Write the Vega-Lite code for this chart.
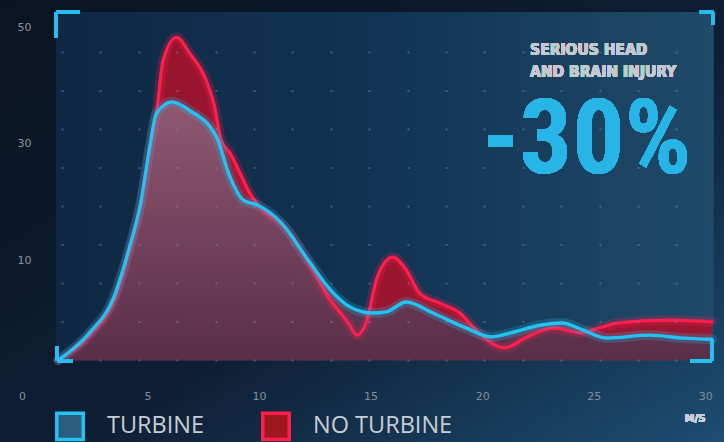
{
  "$schema": "https://vega.github.io/schema/vega-lite/v6.json",
  "width": 724,
  "height": 442,
  "autosize": {"type": "none"},
  "padding": 0,
  "background": "#0b1526",
  "config": {
    "view": {
      "stroke": null,
      "fill": {"gradient": "linear", "x1": 0, "y1": 0, "x2": 1, "y2": 1,
        "stops": [{"offset": 0, "color": "#0a1322"}, {"offset": 0.55, "color": "#0e1e33"}, {"offset": 1, "color": "#1c4d72"}]}
    },
    "axis": {"labelFont": "DejaVu Sans", "title": null}
  },
  "data": {
    "values": [
      {"series": "TURBINE", "speed_ms": 1.0, "injuries": -7.2},
      {"series": "TURBINE", "speed_ms": 2.4, "injuries": -2.5},
      {"series": "TURBINE", "speed_ms": 3.5, "injuries": 3.7},
      {"series": "TURBINE", "speed_ms": 4.2, "injuries": 12.3},
      {"series": "TURBINE", "speed_ms": 4.7, "injuries": 19.9},
      {"series": "TURBINE", "speed_ms": 5.1, "injuries": 29.4},
      {"series": "TURBINE", "speed_ms": 5.4, "injuries": 35.2},
      {"series": "TURBINE", "speed_ms": 6.1, "injuries": 37.2},
      {"series": "TURBINE", "speed_ms": 6.9, "injuries": 35.7},
      {"series": "TURBINE", "speed_ms": 8.1, "injuries": 31.1},
      {"series": "TURBINE", "speed_ms": 8.7, "injuries": 24.3},
      {"series": "TURBINE", "speed_ms": 9.3, "injuries": 20.3},
      {"series": "TURBINE", "speed_ms": 9.9, "injuries": 19.5},
      {"series": "TURBINE", "speed_ms": 11.0, "injuries": 16.4},
      {"series": "TURBINE", "speed_ms": 12.2, "injuries": 10.0},
      {"series": "TURBINE", "speed_ms": 13.2, "injuries": 4.9},
      {"series": "TURBINE", "speed_ms": 14.1, "injuries": 1.9},
      {"series": "TURBINE", "speed_ms": 15.1, "injuries": 0.9},
      {"series": "TURBINE", "speed_ms": 15.7, "injuries": 1.1},
      {"series": "TURBINE", "speed_ms": 16.6, "injuries": 2.8},
      {"series": "TURBINE", "speed_ms": 17.8, "injuries": 0.9},
      {"series": "TURBINE", "speed_ms": 19.3, "injuries": -1.7},
      {"series": "TURBINE", "speed_ms": 20.4, "injuries": -3.2},
      {"series": "TURBINE", "speed_ms": 21.4, "injuries": -2.4},
      {"series": "TURBINE", "speed_ms": 22.6, "injuries": -1.2},
      {"series": "TURBINE", "speed_ms": 23.6, "injuries": -0.8},
      {"series": "TURBINE", "speed_ms": 24.5, "injuries": -2.0},
      {"series": "TURBINE", "speed_ms": 25.6, "injuries": -3.4},
      {"series": "TURBINE", "speed_ms": 27.5, "injuries": -2.9},
      {"series": "TURBINE", "speed_ms": 29.0, "injuries": -3.4},
      {"series": "TURBINE", "speed_ms": 30.3, "injuries": -3.6},
      {"series": "NO TURBINE", "speed_ms": 1.0, "injuries": -7.2},
      {"series": "NO TURBINE", "speed_ms": 2.4, "injuries": -2.9},
      {"series": "NO TURBINE", "speed_ms": 3.5, "injuries": 3.1},
      {"series": "NO TURBINE", "speed_ms": 4.2, "injuries": 11.7},
      {"series": "NO TURBINE", "speed_ms": 4.7, "injuries": 19.5},
      {"series": "NO TURBINE", "speed_ms": 5.1, "injuries": 28.9},
      {"series": "NO TURBINE", "speed_ms": 5.4, "injuries": 35.2},
      {"series": "NO TURBINE", "speed_ms": 5.7, "injuries": 44.3},
      {"series": "NO TURBINE", "speed_ms": 6.3, "injuries": 48.3},
      {"series": "NO TURBINE", "speed_ms": 6.9, "injuries": 45.5},
      {"series": "NO TURBINE", "speed_ms": 7.6, "injuries": 41.2},
      {"series": "NO TURBINE", "speed_ms": 8.0, "injuries": 36.5},
      {"series": "NO TURBINE", "speed_ms": 8.3, "injuries": 30.6},
      {"series": "NO TURBINE", "speed_ms": 8.7, "injuries": 28.4},
      {"series": "NO TURBINE", "speed_ms": 9.7, "injuries": 20.8},
      {"series": "NO TURBINE", "speed_ms": 10.1, "injuries": 18.9},
      {"series": "NO TURBINE", "speed_ms": 11.2, "injuries": 15.5},
      {"series": "NO TURBINE", "speed_ms": 12.3, "injuries": 9.1},
      {"series": "NO TURBINE", "speed_ms": 13.1, "injuries": 3.7},
      {"series": "NO TURBINE", "speed_ms": 14.0, "injuries": -0.8},
      {"series": "NO TURBINE", "speed_ms": 14.4, "injuries": -2.9},
      {"series": "NO TURBINE", "speed_ms": 14.8, "injuries": -0.8},
      {"series": "NO TURBINE", "speed_ms": 15.3, "injuries": 7.1},
      {"series": "NO TURBINE", "speed_ms": 16.0, "injuries": 10.5},
      {"series": "NO TURBINE", "speed_ms": 16.6, "injuries": 8.3},
      {"series": "NO TURBINE", "speed_ms": 17.2, "injuries": 4.3},
      {"series": "NO TURBINE", "speed_ms": 18.1, "injuries": 2.6},
      {"series": "NO TURBINE", "speed_ms": 19.0, "injuries": 0.9},
      {"series": "NO TURBINE", "speed_ms": 19.6, "injuries": -1.5},
      {"series": "NO TURBINE", "speed_ms": 21.0, "injuries": -5.1},
      {"series": "NO TURBINE", "speed_ms": 22.0, "injuries": -3.2},
      {"series": "NO TURBINE", "speed_ms": 23.2, "injuries": -1.7},
      {"series": "NO TURBINE", "speed_ms": 24.4, "injuries": -2.5},
      {"series": "NO TURBINE", "speed_ms": 25.2, "injuries": -1.7},
      {"series": "NO TURBINE", "speed_ms": 26.1, "injuries": -0.8},
      {"series": "NO TURBINE", "speed_ms": 28.3, "injuries": -0.3},
      {"series": "NO TURBINE", "speed_ms": 30.3, "injuries": -0.6}
    ]
  },
  "resolve": {"axis": {"x": "independent", "y": "independent"}},
  "layer": [
    {
      "mark": {"type": "rect", "fill": {"gradient": "linear", "x1": 0, "y1": 0, "x2": 1, "y2": 0,
        "stops": [{"offset": 0, "color": "#0f2844"}, {"offset": 0.5, "color": "#123353"}, {"offset": 1, "color": "#1f4a69"}]}},
      "encoding": {
        "x": {"datum": 0.9, "type": "quantitative",
          "scale": {"domain": [-1.61, 30.84], "nice": false, "zero": false},
          "axis": {"orient": "bottom", "values": [1.17, 2.891, 4.612, 6.334, 8.055, 9.776, 11.497, 13.218, 14.94, 16.661, 18.382, 20.103, 21.824, 23.546, 25.267, 26.988, 28.709],
            "labels": false, "ticks": false, "domain": false, "grid": true,
            "gridDash": [0, 51, 2, 36.5, 2, 36.5, 2, 36.5, 2, 36.5, 2, 36.5, 2, 36.5, 2, 36.5, 2, 36.5, 2, 500],
            "gridColor": "#7aa3c4", "gridOpacity": 0.4, "gridWidth": 2, "zindex": 1, "title": null}},
        "x2": {"datum": 30.35},
        "y": {"datum": 52.6, "type": "quantitative",
          "scale": {"domain": [-21.26, 54.7], "nice": false, "zero": false}, "axis": null},
        "y2": {"datum": -7.2}
      }
    },
    {
      "transform": [{"filter": "datum.series === 'NO TURBINE'"}],
      "mark": {"type": "area", "interpolate": "monotone", "fill": "#a5142c", "fillOpacity": 0.92},
      "encoding": {
        "x": {"field": "speed_ms", "type": "quantitative",
          "axis": {"orient": "bottom", "offset": -46, "values": [0, 5, 10, 15, 20, 25, 30],
            "grid": false, "ticks": false, "domain": false, "labelColor": "#838e9c", "labelFontSize": 11,
            "labelBaseline": "middle", "labelPadding": 0, "labelFlush": false, "labelOverlap": false,
            "labelOffset": {"condition": {"test": "datum.value === 0", "value": -14}, "value": 0}, "title": null}},
        "y": {"field": "injuries", "type": "quantitative",
          "axis": {"orient": "left", "offset": -32, "values": [10, 30, 50], "grid": false, "ticks": false,
            "domain": false, "labelColor": "#8a94a2", "labelFontSize": 11, "labelPadding": 1, "labelOverlap": false, "title": null}},
        "y2": {"datum": -7.2}
      }
    },
    {
      "transform": [{"filter": "datum.series === 'TURBINE'"}],
      "mark": {"type": "area", "interpolate": "monotone", "fillOpacity": 0.92,
        "fill": {"gradient": "linear", "x1": 0, "y1": 0, "x2": 0, "y2": 1,
          "stops": [{"offset": 0, "color": "#8f5d76"}, {"offset": 1, "color": "#53304b"}]}},
      "encoding": {
        "x": {"field": "speed_ms", "type": "quantitative", "axis": null},
        "y": {"field": "injuries", "type": "quantitative", "axis": null},
        "y2": {"datum": -7.2}
      }
    },
    {
      "transform": [{"filter": "datum.series === 'NO TURBINE'"}],
      "mark": {"type": "line", "interpolate": "monotone", "stroke": "#ff1f4f", "strokeWidth": 10, "opacity": 0.22, "strokeCap": "round"},
      "encoding": {
        "x": {"field": "speed_ms", "type": "quantitative", "axis": null},
        "y": {"field": "injuries", "type": "quantitative", "axis": null}
      }
    },
    {
      "transform": [{"filter": "datum.series === 'NO TURBINE'"}],
      "mark": {"type": "line", "interpolate": "monotone", "strokeWidth": 3.2, "strokeCap": "round", "strokeJoin": "round"},
      "encoding": {
        "x": {"field": "speed_ms", "type": "quantitative", "axis": null},
        "y": {"field": "injuries", "type": "quantitative", "axis": null},
        "stroke": {"field": "series", "type": "nominal",
          "scale": {"domain": ["TURBINE", "NO TURBINE"], "range": ["#22c3f3", "#ff1f4f"]},
          "legend": {"orient": "none", "legendX": 55, "legendY": 411, "direction": "horizontal", "title": null,
            "symbolType": "square", "symbolSize": 700, "symbolStrokeWidth": 3.5, "padding": 0,
            "labelFont": "Open Sans", "labelFontSize": 23.5, "labelColor": "#c8cdd5", "labelOffset": 22,
            "columnPadding": 50, "labelLimit": 300,
            "encode": {"symbols": {"update": {"fill": {"signal": "datum.value === 'TURBINE' ? '#2d5d7e' : '#a0181f'"}, "fillOpacity": {"value": 1}, "opacity": {"value": 1}}}}}}
      }
    },
    {
      "transform": [{"filter": "datum.series === 'TURBINE'"}],
      "mark": {"type": "line", "interpolate": "monotone", "stroke": "#22c3f3", "strokeWidth": 10, "opacity": 0.22, "strokeCap": "round"},
      "encoding": {
        "x": {"field": "speed_ms", "type": "quantitative", "axis": null},
        "y": {"field": "injuries", "type": "quantitative", "axis": null}
      }
    },
    {
      "transform": [{"filter": "datum.series === 'TURBINE'"}],
      "mark": {"type": "line", "interpolate": "monotone", "strokeWidth": 3.4, "strokeCap": "round", "strokeJoin": "round"},
      "encoding": {
        "x": {"field": "speed_ms", "type": "quantitative", "axis": null},
        "y": {"field": "injuries", "type": "quantitative", "axis": null},
        "stroke": {"field": "series", "type": "nominal",
          "scale": {"domain": ["TURBINE", "NO TURBINE"], "range": ["#22c3f3", "#ff1f4f"]},
          "legend": {"orient": "none", "legendX": 55, "legendY": 411, "direction": "horizontal", "title": null,
            "symbolType": "square", "symbolSize": 700, "symbolStrokeWidth": 3.5, "padding": 0,
            "labelFont": "Open Sans", "labelFontSize": 23.5, "labelColor": "#c8cdd5", "labelOffset": 22,
            "columnPadding": 50, "labelLimit": 300,
            "encode": {"symbols": {"update": {"fill": {"signal": "datum.value === 'TURBINE' ? '#2d5d7e' : '#a0181f'"}, "fillOpacity": {"value": 1}, "opacity": {"value": 1}}}}}}
      }
    },
    {"mark": {"type": "rule", "stroke": "#27bdf0", "strokeWidth": 3.5}, "encoding": {"x": {"datum": 0.9, "axis": null}, "x2": {"datum": 1.976}, "y": {"datum": 52.64, "axis": null}}},
    {"mark": {"type": "rule", "stroke": "#27bdf0", "strokeWidth": 3.5}, "encoding": {"x": {"datum": 0.9, "axis": null}, "y": {"datum": 52.64, "axis": null}, "y2": {"datum": 48.17}}},
    {"mark": {"type": "rule", "stroke": "#27bdf0", "strokeWidth": 3.5}, "encoding": {"x": {"datum": 29.76, "axis": null}, "x2": {"datum": 30.35}, "y": {"datum": 52.64, "axis": null}}},
    {"mark": {"type": "rule", "stroke": "#27bdf0", "strokeWidth": 3.5}, "encoding": {"x": {"datum": 30.35, "axis": null}, "y": {"datum": 52.64, "axis": null}, "y2": {"datum": 50.4}}},
    {"mark": {"type": "rule", "stroke": "#27bdf0", "strokeWidth": 3.5}, "encoding": {"x": {"datum": 29.32, "axis": null}, "x2": {"datum": 30.3}, "y": {"datum": -7.34, "axis": null}}},
    {"mark": {"type": "rule", "stroke": "#27bdf0", "strokeWidth": 3.5}, "encoding": {"x": {"datum": 30.3, "axis": null}, "y": {"datum": -7.34, "axis": null}, "y2": {"datum": -3.73}}},
    {"mark": {"type": "rule", "stroke": "#27bdf0", "strokeWidth": 3.5}, "encoding": {"x": {"datum": 0.945, "axis": null}, "x2": {"datum": 1.662}, "y": {"datum": -7.34, "axis": null}}},
    {"mark": {"type": "rule", "stroke": "#27bdf0", "strokeWidth": 3.5}, "encoding": {"x": {"datum": 0.945, "axis": null}, "y": {"datum": -7.34, "axis": null}, "y2": {"datum": -4.76}}},
    {"mark": {"type": "text", "text": "SERIOUS HEAD", "font": "DejaVu Sans Condensed", "fontWeight": "bold", "fontSize": 15.5, "fill": "#c3c9d1", "align": "left", "baseline": "middle"},
      "encoding": {"x": {"datum": 22.15, "axis": null}, "y": {"datum": 46.19, "axis": null}}},
    {"mark": {"type": "text", "text": "AND BRAIN INJURY", "font": "DejaVu Sans Condensed", "fontWeight": "bold", "fontSize": 15.5, "fill": "#c3c9d1", "align": "left", "baseline": "middle"},
      "encoding": {"x": {"datum": 22.15, "axis": null}, "y": {"datum": 42.41, "axis": null}}},
    {"mark": {"type": "text", "text": "-30%", "font": "Roboto Condensed, Roboto, sans-serif", "fontWeight": "bold", "fontSize": 104, "fill": "#27b4e6", "align": "center", "baseline": "alphabetic"},
      "encoding": {"x": {"datum": 24.68, "axis": null}, "y": {"datum": 24.97, "axis": null}}},
    {"mark": {"type": "text", "text": "M/S", "font": "DejaVu Sans", "fontWeight": "bold", "fontSize": 10, "fill": "#c8d0da", "align": "center", "baseline": "middle"},
      "encoding": {"x": {"datum": 29.54, "axis": null}, "y": {"datum": -17.3, "axis": null}}}
  ]
}
